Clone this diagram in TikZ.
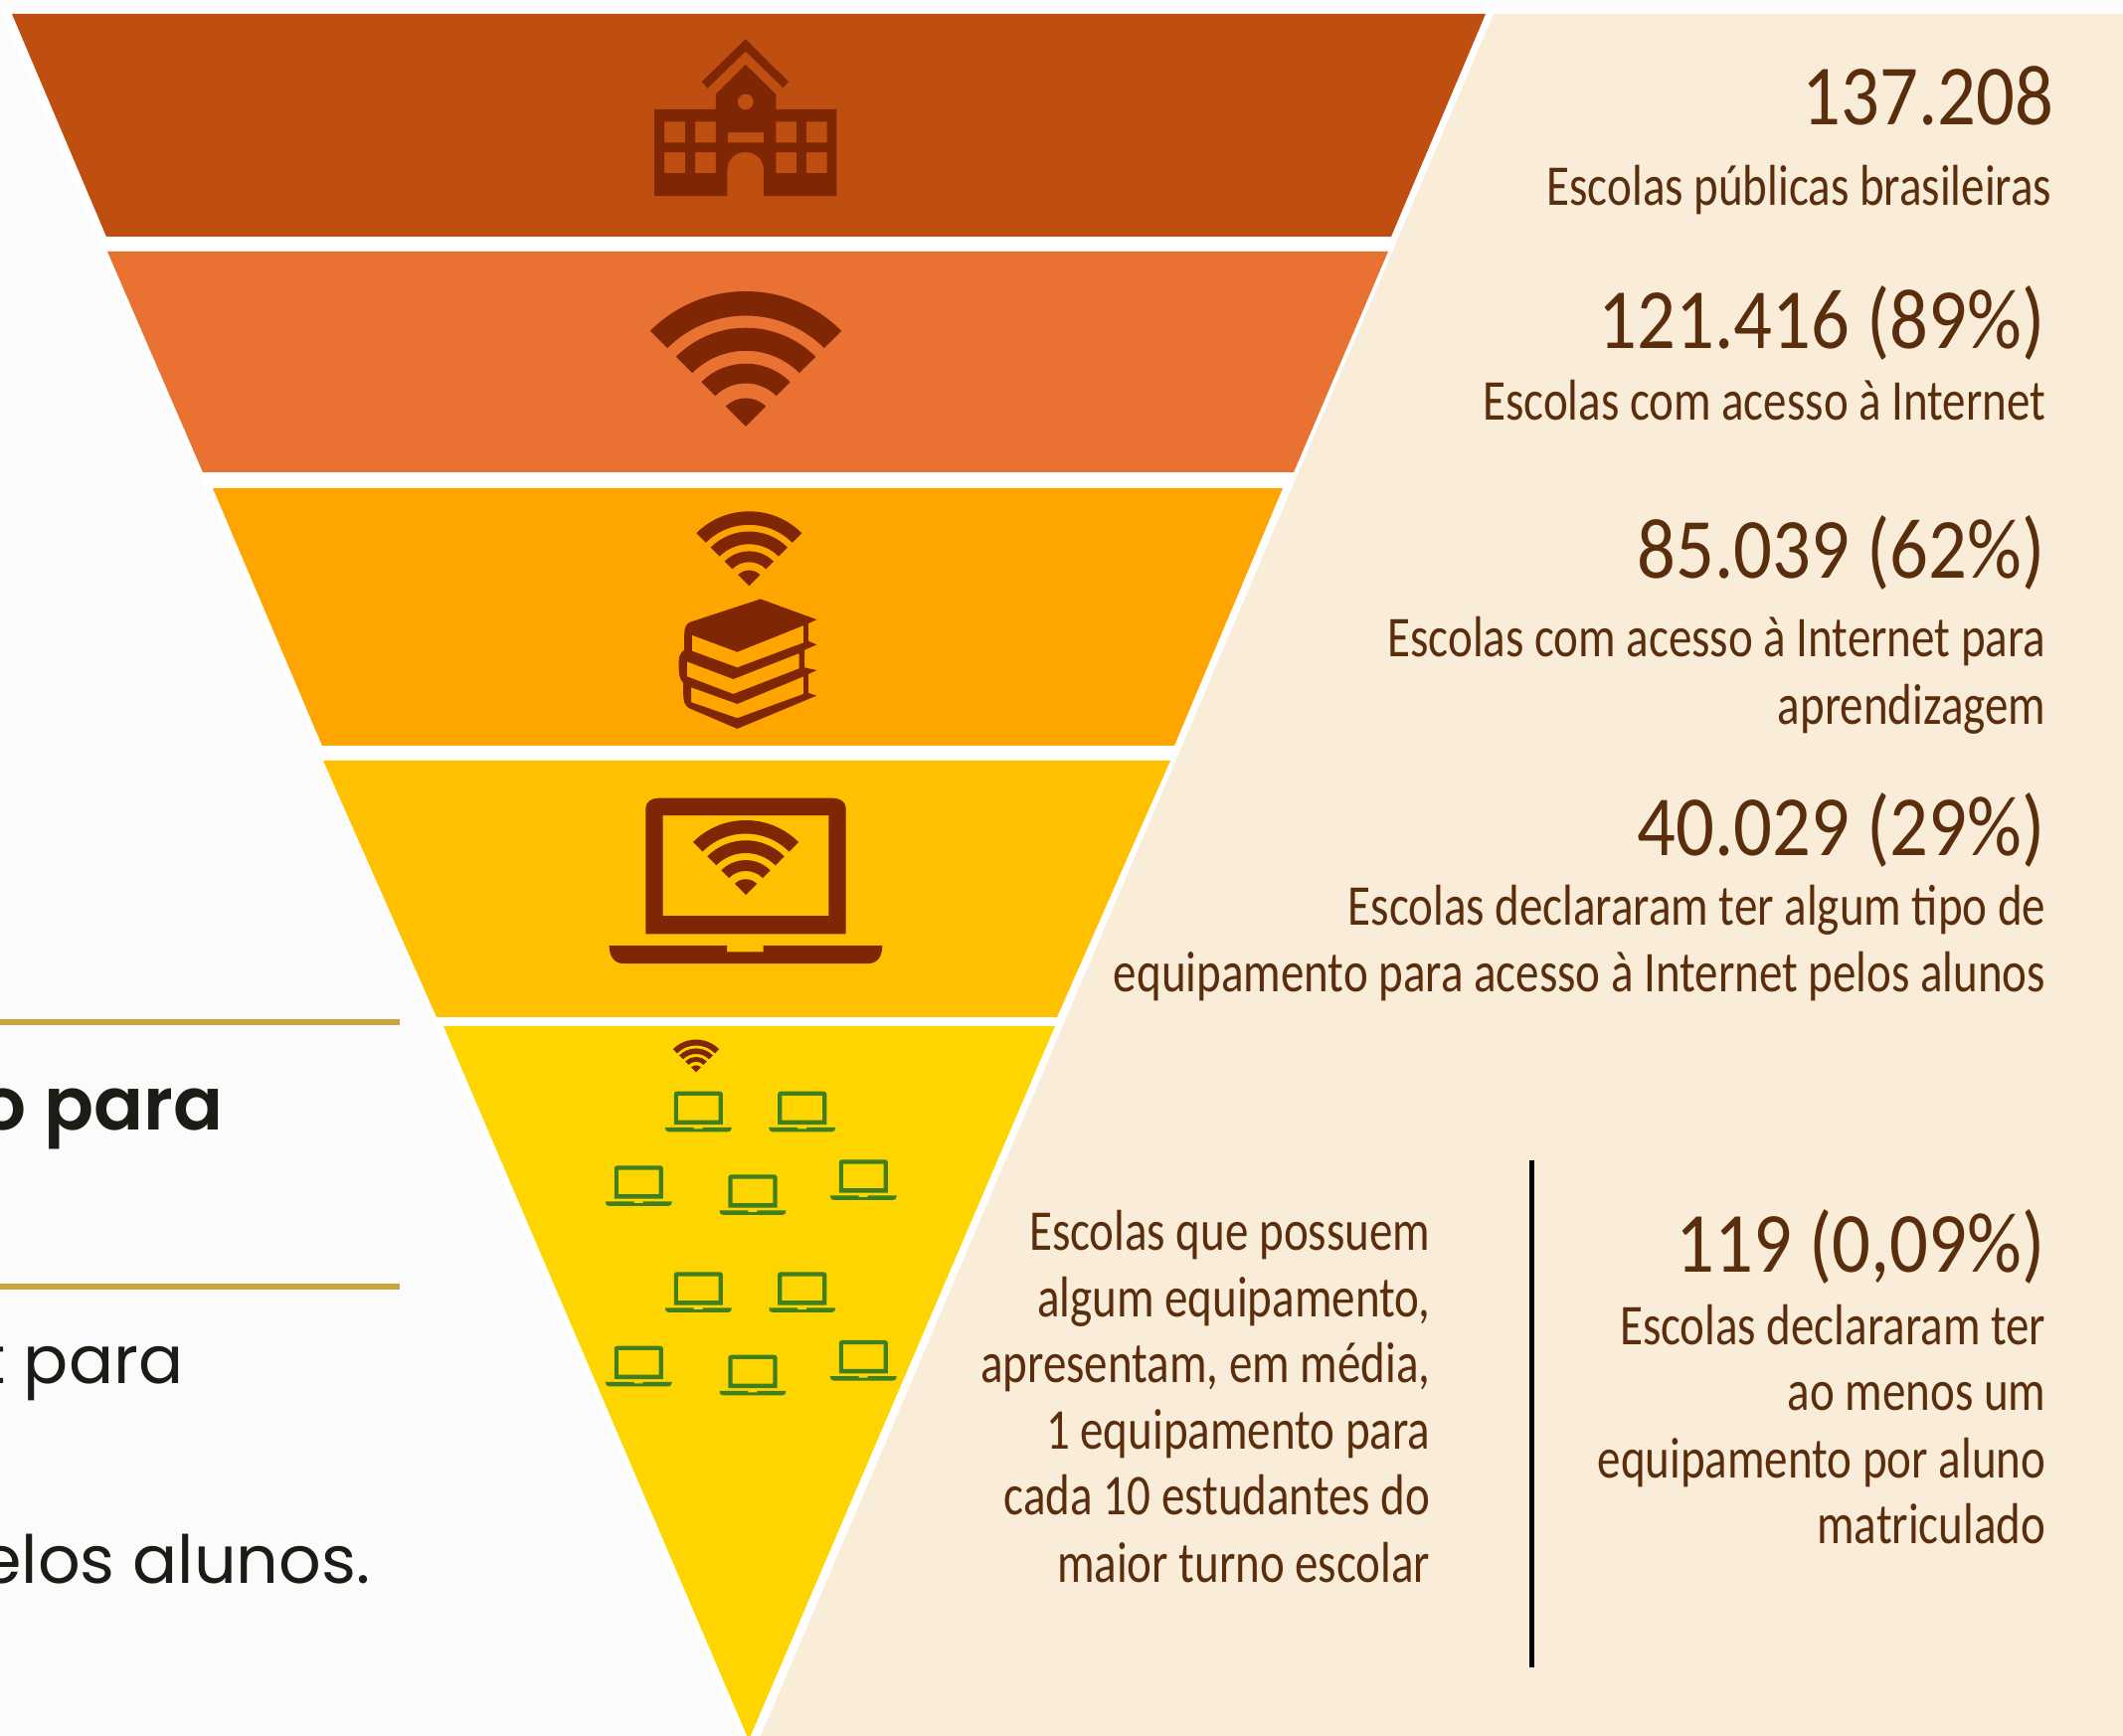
\documentclass[tikz,border=0pt]{standalone}
\usepackage{fontspec}
\setmainfont{Carlito}
\newfontfamily\numfont[FakeStretch=0.89]{Carlito}
\newfontfamily\capfont[FakeStretch=0.81]{Carlito}
\newfontfamily\leftfont{Poppins}
\newfontfamily\leftbold{Poppins SemiBold}
\definecolor{bgleft}{HTML}{FBFBFB}
\definecolor{cream}{HTML}{F9EDD9}
\definecolor{bandA}{HTML}{BF4F11}
\definecolor{bandB}{HTML}{E97132}
\definecolor{bandC}{HTML}{FFA500}
\definecolor{bandD}{HTML}{FFC000}
\definecolor{bandE}{HTML}{FFD500}
\definecolor{icon}{HTML}{7F2604}
\definecolor{lapgreen}{HTML}{3F7F1F}
\definecolor{txt}{HTML}{5A2D0C}
\definecolor{gold}{HTML}{C9A53D}
\definecolor{ink}{HTML}{1C1C16}
\tikzset{
  wifi/.pic={
    \fill[icon] (-135:1) arc[start angle=-135,end angle=-45,radius=1] -- (-45:.82) arc[start angle=-45,end angle=-135,radius=.82] -- cycle;
    \fill[icon] (-135:.73) arc[start angle=-135,end angle=-45,radius=.73] -- (-45:.56) arc[start angle=-45,end angle=-135,radius=.56] -- cycle;
    \fill[icon] (-135:.465) arc[start angle=-135,end angle=-45,radius=.465] -- (-45:.32) arc[start angle=-45,end angle=-135,radius=.32] -- cycle;
    \fill[icon] (-135:.21) arc[start angle=-135,end angle=-45,radius=.21] -- (0,0) -- cycle;
  },
  laptop/.pic={
    \fill[pic actions,even odd rule] (-302,410) -- (-302,30) .. controls (-302,10) and (-282,0) .. (-262,0) -- (262,0) .. controls (282,0) and (302,10) .. (302,30) -- (302,410) -- cycle (-250,52) rectangle (250,355);
    \fill[pic actions] (-412,445) -- (-57,445) -- (-57,464) -- (53,464) -- (53,445) -- (412,445) .. controls (412,480) and (395,499) .. (370,499) -- (-370,499) .. controls (-395,499) and (-412,480) .. (-412,445) -- cycle;
  },
  bignum/.style={anchor=base east,inner sep=0pt,text=txt,font=\numfont\fontsize{24.5pt}{24.5pt}\selectfont},
  capt/.style={anchor=base east,inner sep=0pt,text=txt,font=\capfont\fontsize{16.5pt}{16.5pt}\selectfont},
  smalllap/.style={scale=.0813,fill=lapgreen}
}
\begin{document}
\begin{tikzpicture}[x=0.01cm,y=-0.01cm]
\useasboundingbox (0,0) rectangle (2135,1746);
% backgrounds
\fill[bgleft] (0,0) rectangle (2135,1746);
\fill[white] (0,7) -- (2135,7) -- (2135,1746) -- (745,1746) -- (0,10) -- cycle;
\fill[cream] (1502,14) -- (2135,14) -- (2135,1746) -- (765,1746) -- cycle;
% funnel bands
\fill[bandA] (12,14) -- (1494,14) -- (1399,238) -- (107,238) -- cycle;
\fill[bandB] (108,253) -- (1396,253) -- (1301,475) -- (204,475) -- cycle;
\fill[bandC] (214,491) -- (1290,491) -- (1181,750) -- (324,750) -- cycle;
\fill[bandD] (325,765) -- (1177,765) -- (1063,1023) -- (439,1023) -- cycle;
\fill[bandE] (446,1032) -- (1061,1032) -- (753,1750) -- cycle;
% school icon
\begin{scope}[shift={(600,0)},x=0.003333cm,y=-0.003333cm]
\fill[icon] (318,247) -- (450,118) -- (580,247) -- (563,265) -- (450,155) -- (335,267) -- cycle;
\fill[icon,even odd rule]
  (175,330) -- (360,330) -- (360,285) -- (450,195) -- (542,285) -- (542,330) -- (725,330) -- (725,592) -- (505,592) -- (505,515) .. controls (505,480) and (480,460) .. (450,460) .. controls (420,460) and (395,480) .. (395,515) -- (395,592) -- (175,592) -- cycle
  (450,308) circle[radius=24]
  (205,368) rectangle (268,431) (298,368) rectangle (360,431) (542,368) rectangle (604,431) (634,368) rectangle (696,431)
  (205,460) rectangle (268,523) (298,460) rectangle (360,523) (542,460) rectangle (604,523) (634,460) rectangle (696,523)
  (396,400) rectangle (505,431);
\end{scope}
% wifi icons
\pic[scale=136] at (750,429) {wifi};
\pic[scale=75] at (753.3,589.3) {wifi};
\pic[scale=75] at (750,900) {wifi};
\pic[scale=32.7] at (700,1078.3) {wifi};
% books icon
\begin{scope}[shift={(600,490)},x=0.003333cm,y=-0.003333cm]
\fill[icon,even odd rule]
  (495,338) -- (665,400) -- (640,412) -- (640,465) -- (665,476) -- (628,492) -- (628,545) -- (665,553) -- (640,565) -- (640,622) -- (665,630) -- (425,730) -- (280,668) .. controls (265,660) and (262,645) .. (262,625) -- (262,592) .. controls (250,580) and (248,565) .. (248,530) .. controls (248,510) and (255,498) .. (265,492) -- (265,445) .. controls (265,425) and (270,412) .. (285,407) -- cycle
  (288,447) -- (425,498) -- (625,418) -- (625,470) -- (425,545) -- (288,495) -- cycle
  (273,527) -- (413,580) -- (612,502) -- (612,548) -- (413,625) -- (273,572) -- cycle
  (286,605) -- (425,655) -- (625,572) -- (625,625) -- (425,698) -- (286,650) -- cycle;
\end{scope}
% laptops
\pic[scale=.3333,fill=icon] at (750,802.7) {laptop};
\pic[smalllap] at (702.3,1097.7) {laptop};
\pic[smalllap] at (806.7,1097.7) {laptop};
\pic[smalllap] at (642.3,1172.3) {laptop};
\pic[smalllap] at (757,1181.3) {laptop};
\pic[smalllap] at (868.3,1166.3) {laptop};
\pic[smalllap] at (702.3,1279.3) {laptop};
\pic[smalllap] at (806.7,1279.3) {laptop};
\pic[smalllap] at (642.3,1353.7) {laptop};
\pic[smalllap] at (757,1362.7) {laptop};
\pic[smalllap] at (868.3,1348) {laptop};
% left panel
\fill[gold] (0,1025) rectangle (402,1031);
\fill[gold] (0,1291) rectangle (402,1297);
\begin{scope}
\clip (0,0) rectangle (2135,1746);
\node[anchor=base east,inner sep=0pt,text=ink,font=\leftbold\fontsize{21pt}{21pt}\selectfont] (lefta) at (225,1137) {o para};
\node[anchor=base east,inner sep=0pt,text=ink,font=\leftfont\fontsize{19pt}{19pt}\selectfont] (leftb) at (185,1392) {t para};
\node[anchor=base east,inner sep=0pt,text=ink,font=\leftfont\fontsize{19pt}{19pt}\selectfont] (leftc) at (373,1592) {elos alunos.};
\end{scope}
% right text
\node[bignum] (n1) at (2066,126) {137.208};
\node[capt] (c1) at (2064,207) {Escolas públicas brasileiras};
\node[bignum] (n2) at (2057,351) {121.416 (89\%)};
\node[capt] (c2) at (2058,423) {Escolas com acesso à Internet};
\node[bignum] (n3) at (2057,582) {85.039 (62\%)};
\node[capt] (c3a) at (2058,661) {Escolas com acesso à Internet para};
\node[capt] (c3b) at (2058,729) {aprendizagem};
\node[bignum] (n4) at (2057,861) {40.029 (29\%)};
\node[capt] (c4a) at (2058,931) {Escolas declararam ter algum tipo de};
\node[capt] (c4b) at (2058,998) {equipamento para acesso à Internet pelos alunos};
\node[bignum] (n5) at (2057,1280) {119 (0,09\%)};
\node[capt] (c5a) at (2058,1353) {Escolas declararam ter};
\node[capt] (c5b) at (2058,1419) {ao menos um};
\node[capt] (c5c) at (2058,1486) {equipamento por aluno};
\node[capt] (c5d) at (2058,1553) {matriculado};
\node[capt] (d1) at (1439,1258) {Escolas que possuem};
\node[capt] (d2) at (1439,1324) {algum equipamento,};
\node[capt] (d3) at (1439,1391) {apresentam, em média,};
\node[capt] (d4) at (1439,1458) {1 equipamento para};
\node[capt] (d5) at (1439,1524) {cada 10 estudantes do};
\node[capt] (d6) at (1439,1591) {maior turno escolar};
\coordinate (sepa) at (1540,1167);
\coordinate (sepb) at (1540,1677);
\draw[black,line width=5*0.2845pt] (sepa) -- (sepb);
\end{tikzpicture}
\end{document}
